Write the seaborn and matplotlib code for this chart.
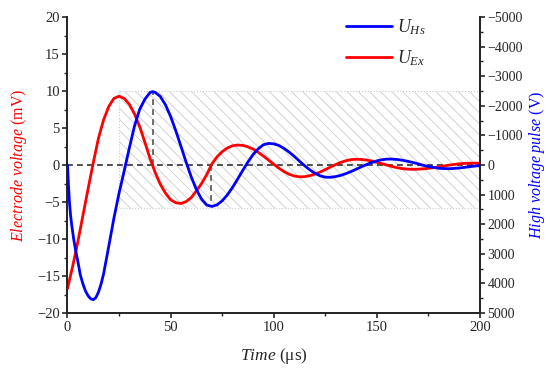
import numpy as np
import matplotlib
matplotlib.use("Agg")
import matplotlib.pyplot as plt
import matplotlib.ticker as mticker
import seaborn as sns

# electrode voltage U_Ex (mV), left axis
T_EX = np.arange(0, 200.1, 2.5)
U_EX = [-16.7, -13.7, -10.4, -6.8, -3.2, 0.3, 3.6, 6.1, 7.9, 9.0,
        9.3, 9.0, 8.2, 6.9, 5.2, 3.1, 0.9, -1.0, -2.6, -3.8,
        -4.7, -5.1, -5.2, -4.95, -4.4, -3.5, -2.5, -1.3, 0.15, 1.1,
        1.8, 2.3, 2.6, 2.7, 2.65, 2.46, 2.15, 1.72, 1.21, 0.66,
        0.1, -0.43, -0.89, -1.25, -1.49, -1.6, -1.57, -1.44, -1.23, -0.95,
        -0.62, -0.27, 0.06, 0.36, 0.58, 0.73, 0.78, 0.75, 0.67, 0.54,
        0.37, 0.18, -0.02, -0.21, -0.37, -0.49, -0.56, -0.58, -0.56, -0.52,
        -0.45, -0.35, -0.25, -0.13, -0.02, 0.08, 0.16, 0.22, 0.25, 0.25,
        0.24]

# high voltage pulse U_Hs (V), right axis (inverted)
T_HS = [0, 0.5, 1, 1.5, 2, 3, 4, 5, 6.25, 7.5, 8.75, 10, 11.25, 12.5,
        13.75, 15, 16.25, 17.5, 20, 22.5, 25, 27.5, 30, 32.5, 35, 37.5,
        40, 41.25, 42.5, 45, 47.5, 50, 52.5, 55, 57.5, 60,
        62.5, 65, 67.5, 70, 72.5, 75, 77.5, 80, 82.5, 85,
        87.5, 90, 92.5, 95, 97.5, 100, 102.5, 105, 107.5, 110,
        112.5, 115, 117.5, 120, 122.5, 125, 127.5, 130, 132.5, 135,
        137.5, 140, 142.5, 145, 147.5, 150, 152.5, 155, 157.5, 160,
        162.5, 165, 167.5, 170, 172.5, 175, 177.5, 180, 182.5, 185,
        187.5, 190, 192.5, 195, 197.5, 200]
U_HS = [0, 700, 1300, 1700, 2000, 2500, 2900, 3250, 3720, 4020, 4260, 4420, 4520, 4550,
        4480, 4300, 4030, 3680, 2750, 1800, 950, 200, -580, -1320, -1880, -2220,
        -2450, -2480, -2455, -2315, -2035, -1640, -1160, -635, -100, 400,
        830, 1150, 1350, 1400, 1345, 1210, 1010, 760, 475, 180,
        -105, -355, -550, -685, -730, -715, -660, -560, -435, -290,
        -130, 25, 165, 280, 365, 410, 415, 390, 350, 290,
        220, 140, 60, -15, -85, -140, -180, -200, -200, -185,
        -160, -125, -85, -40, 10, 50, 80, 110, 120, 125,
        115, 100, 80, 55, 35, 20]

# hatched region and marker lines (left axis units)
SHADE_T = [25, 200]
SHADE_LOW = -5.8
SHADE_HIGH = 10
ZERO_LEVEL = 0
MARK_T = [41.3, 69.6]
MARK_LEVEL = [10, -5.6]

sns.set_style("ticks")
plt.rcParams.update({
    "font.family": ["Liberation Serif", "DejaVu Serif"],
    "mathtext.fontset": "custom",
    "mathtext.rm": "Liberation Serif",
    "mathtext.it": "Liberation Serif:italic",
    "axes.linewidth": 1.3,
    "xtick.direction": "out",
    "ytick.direction": "out",
    "xtick.major.size": 3.5,
    "ytick.major.size": 3.5,
    "xtick.minor.size": 2,
    "ytick.minor.size": 2,
    "xtick.major.width": 1.2,
    "ytick.major.width": 1.2,
    "xtick.minor.width": 1.0,
    "ytick.minor.width": 1.0,
    "xtick.major.pad": 2,
    "ytick.major.pad": 2,
    "hatch.linewidth": 0.6,
})

fig = plt.figure(figsize=(5.5, 3.75), dpi=100)
ax = fig.add_axes([0.1227, 0.1653, 0.75, 0.7893])

ax.fill_between(SHADE_T, SHADE_LOW, SHADE_HIGH, facecolor="none",
                edgecolor="#cccccc", hatch="\\\\\\", linewidth=0.8,
                linestyle=":", zorder=0)
ax.axhline(ZERO_LEVEL, color="#333333", lw=1.2, ls=(0, (3.5, 2.5)), zorder=1)
ax.vlines(MARK_T, ZERO_LEVEL, MARK_LEVEL, color="#555555", lw=1.2,
          ls=(0, (3.5, 2.5)), zorder=1)

sns.lineplot(x=T_EX, y=U_EX, ax=ax, color="#ff0000", lw=2.0,
             label=r"$U_{Ex}$", legend=False, zorder=3)

ax2 = ax.twinx()
sns.lineplot(x=T_HS, y=U_HS, ax=ax2, color="#0000ff", lw=2.0,
             label=r"$U_{Hs}$", legend=False, zorder=3)

ax.set_xlim(0, 200)
ax.set_ylim(-20, 20)
ax2.set_ylim(5000, -5000)

ax.xaxis.set_major_locator(mticker.MultipleLocator(50))
ax.xaxis.set_minor_locator(mticker.MultipleLocator(25))
ax.yaxis.set_major_locator(mticker.MultipleLocator(5))
ax.yaxis.set_minor_locator(mticker.MultipleLocator(2.5))
ax2.yaxis.set_major_locator(mticker.MultipleLocator(1000))
ax2.yaxis.set_minor_locator(mticker.MultipleLocator(500))

ax.spines["top"].set_visible(False)
ax2.spines["top"].set_visible(False)
ax.tick_params(labelsize=10.5)
ax2.tick_params(labelsize=10)

ax.set_xlabel(r"$\mathit{Time}$ (μs)", fontsize=12.5, labelpad=9)
ax.set_ylabel(r"$\mathit{Electrode\ voltage}$ (mV)", fontsize=11.5,
              color="#ff0000", labelpad=6)
ax2.set_ylabel(r"$\mathit{High\ voltage\ pulse}$ (V)", fontsize=11.5,
               color="#0000ff", labelpad=3)

h1, l1 = ax.get_legend_handles_labels()
h2, l2 = ax2.get_legend_handles_labels()
ax2.legend(h2 + h1, l2 + l1, loc="upper left", bbox_to_anchor=(0.675, 1.0),
           borderaxespad=0, borderpad=0, frameon=False, fontsize=13,
           handlelength=2.55, labelspacing=0.65, handletextpad=0.3)

fig.savefig("out.png", dpi=100)
